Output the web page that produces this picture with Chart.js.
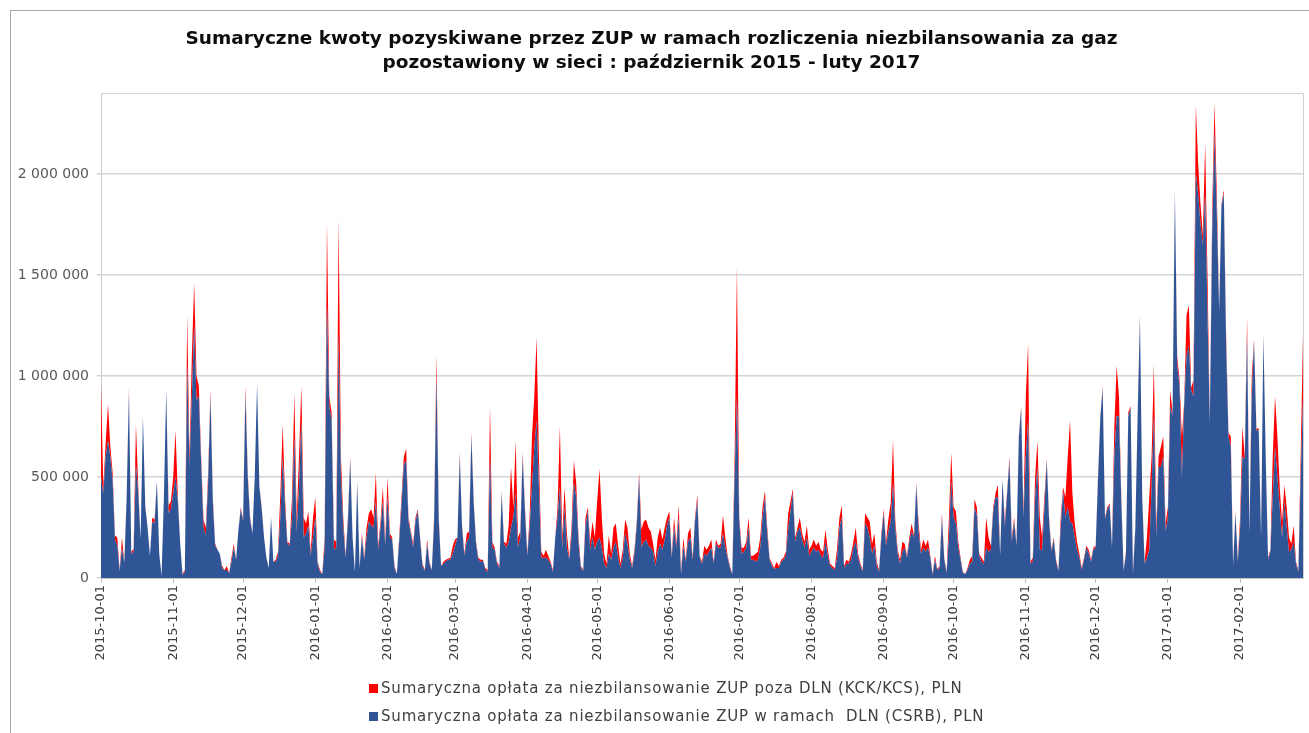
<!DOCTYPE html>
<html lang="pl">
<head>
    <meta charset="UTF-8">
    <script src="https://cdn.jsdelivr.net/npm/chart.js"></script>
    <style>
        html, body {
            margin: 0;
            padding: 0;
            background: #fff;
            overflow: hidden;
        }

        .frame {
            position: absolute;
            left: 10px;
            top: 10px;
            width: 1330px;
            height: 760px;
            border: 1px solid #a6a6a6;
        }

        .wrap {
            position: absolute;
            left: 0;
            top: 0;
            width: 1309px;
            height: 733px;
        }
    </style>
    <title>Sumaryczne kwoty pozyskiwane przez ZUP</title>
</head>
<body>
    <div class="frame"></div>
    <div class="wrap"><canvas id="chart"></canvas></div>
    <script>
        // daily series, 2015-10-01 .. 2017-02-28, values in thousands PLN
        const firstDay = "2015-10-01";
        const dayCount = 517;

        const monthTicks = [
            "2015-10-01", "2015-11-01", "2015-12-01", "2016-01-01", "2016-02-01", "2016-03-01",
            "2016-04-01", "2016-05-01", "2016-06-01", "2016-07-01", "2016-08-01", "2016-09-01",
            "2016-10-01", "2016-11-01", "2016-12-01", "2017-01-01", "2017-02-01"
        ];

        const yTicks = [0, 500000, 1000000, 1500000, 2000000];

        // ZUP w ramach DLN (CSRB) - blue, bottom of the stack
        const csrbK = [
            500, 420, 600, 680, 600, 480, 190, 160, 35, 150,
            75, 390, 920, 120, 130, 560, 420, 190, 800, 350,
            250, 110, 280, 270, 480, 120, 10, 400, 930, 320,
            340, 420, 500, 380, 170, 15, 30, 1050, 550, 900,
            1250, 880, 900, 560, 250, 210, 480, 900, 380, 160,
            140, 120, 50, 40, 40, 25, 80, 150, 90, 240,
            340, 280, 910, 500, 290, 220, 500, 960, 450, 340,
            200, 100, 50, 300, 80, 80, 110, 300, 600, 350,
            170, 160, 300, 700, 230, 450, 780, 200, 220, 260,
            110, 200, 300, 70, 30, 20, 150, 1350, 850, 780,
            140, 150, 1200, 500, 250, 100, 280, 580, 200, 30,
            470, 50, 200, 90, 200, 280, 260, 250, 380, 140,
            250, 380, 160, 400, 200, 190, 50, 20, 180, 360,
            560, 580, 280, 220, 150, 280, 330, 190, 60, 35,
            170, 70, 40, 280, 1000, 280, 60, 70, 80, 90,
            90, 120, 160, 200, 600, 250, 110, 180, 200, 700,
            370, 170, 90, 80, 85, 40, 30, 600, 150, 140,
            70, 50, 420, 170, 150, 180, 250, 300, 420, 150,
            200, 600, 330, 110, 250, 450, 650, 780, 450, 100,
            100, 100, 90, 70, 30, 200, 300, 450, 150, 350,
            150, 90, 200, 470, 400, 170, 50, 35, 260, 330,
            140, 200, 140, 180, 200, 150, 70, 50, 120, 90,
            150, 180, 100, 50, 100, 220, 170, 90, 50, 120,
            260, 500, 150, 180, 190, 160, 150, 130, 60, 130,
            170, 140, 190, 260, 300, 100, 250, 150, 300, 20,
            160, 80, 180, 200, 90, 280, 380, 100, 70, 120,
            110, 130, 150, 70, 170, 150, 150, 220, 150, 100,
            50, 20, 500, 900, 280, 120, 130, 150, 250, 90,
            90, 80, 90, 150, 300, 400, 220, 90, 60, 45,
            50, 50, 80, 90, 110, 240, 330, 420, 180, 230,
            250, 190, 150, 200, 110, 130, 150, 130, 140, 110,
            100, 180, 110, 60, 50, 40, 100, 250, 300, 50,
            70, 70, 90, 150, 180, 100, 60, 30, 270, 250,
            200, 120, 160, 60, 30, 200, 320, 160, 230, 280,
            470, 240, 120, 70, 130, 150, 100, 180, 230, 200,
            460, 230, 120, 150, 130, 150, 100, 15, 90, 40,
            50, 300, 90, 25, 200, 480, 300, 270, 150, 90,
            25, 20, 40, 70, 80, 350, 310, 110, 80, 70,
            150, 130, 140, 330, 400, 400, 110, 490, 250, 420,
            580, 180, 280, 160, 690, 840, 300, 600, 780, 70,
            80, 400, 550, 140, 140, 350, 580, 280, 130, 190,
            80, 35, 250, 430, 300, 350, 280, 270, 200, 140,
            100, 40, 90, 150, 120, 80, 140, 150, 490, 790,
            940, 290, 340, 360, 150, 600, 800, 800, 380, 35,
            120, 800, 840, 20, 240, 790, 1290, 390, 70, 100,
            140, 450, 800, 200, 550, 550, 600, 230, 300, 850,
            800, 1910, 1050, 950, 500, 860, 1100, 1150, 930, 900,
            2000, 1900, 1750, 1650, 1900, 1300, 770, 1700, 2200, 1800,
            1320, 1840, 1900, 1150, 700, 650, 60, 320, 80, 250,
            600, 590, 1200, 220, 900, 1170, 730, 730, 200, 1200,
            590, 90, 130, 400, 650, 500, 350, 200, 380, 250,
            130, 140, 180, 70, 30, 500, 880
        ];

        // ZUP poza DLN (KCK/KCS) - red, stacked on top
        const kckK = [
            460, 30, 70, 180, 50, 40, 20, 40, 5, 50,
            5, 10, 20, 10, 15, 200, 30, 0, 0, 10,
            0, 0, 20, 20, 0, 0, 0, 0, 0, 40,
            40, 80, 230, 20, 0, 5, 10, 250, 50, 200,
            210, 120, 50, 40, 40, 40, 40, 30, 20, 10,
            0, 0, 10, 0, 20, 0, 20, 20, 0, 0,
            10, 10, 40, 20, 10, 0, 0, 0, 0, 10,
            0, 0, 0, 0, 0, 10, 20, 120, 160, 50,
            10, 10, 100, 215, 70, 150, 170, 100, 50, 70,
            20, 100, 100, 10, 10, 0, 50, 410, 50, 40,
            50, 30, 580, 100, 50, 10, 20, 20, 0, 0,
            10, 0, 20, 10, 50, 40, 80, 50, 140, 20,
            30, 70, 20, 100, 20, 10, 10, 0, 20, 40,
            40, 60, 20, 10, 20, 20, 10, 10, 10, 5,
            20, 10, 0, 20, 100, 20, 0, 10, 10, 5,
            10, 40, 30, 0, 20, 10, 10, 40, 30, 20,
            10, 10, 10, 10, 5, 10, 10, 250, 30, 10,
            10, 10, 10, 10, 20, 80, 300, 50, 260, 50,
            30, 20, 20, 10, 50, 250, 250, 410, 150, 30,
            10, 40, 20, 10, 10, 0, 50, 300, 50, 100,
            70, 10, 50, 110, 70, 30, 10, 5, 40, 20,
            40, 80, 60, 200, 340, 150, 50, 20, 90, 30,
            100, 90, 60, 20, 40, 70, 80, 30, 10, 20,
            20, 20, 90, 100, 100, 90, 80, 40, 30, 70,
            80, 50, 60, 40, 30, 10, 50, 20, 60, 10,
            40, 10, 40, 50, 10, 20, 30, 10, 10, 40,
            30, 30, 40, 10, 20, 10, 20, 90, 50, 10,
            10, 0, 100, 640, 20, 30, 20, 30, 50, 20,
            20, 40, 40, 50, 50, 30, 30, 10, 10, 5,
            30, 10, 10, 10, 20, 80, 50, 20, 20, 20,
            50, 30, 30, 60, 30, 30, 40, 30, 40, 30,
            30, 60, 30, 10, 10, 10, 50, 50, 60, 10,
            20, 10, 30, 30, 70, 20, 10, 10, 50, 50,
            80, 50, 60, 20, 10, 20, 20, 20, 60, 90,
            210, 40, 20, 20, 50, 20, 10, 20, 40, 10,
            10, 40, 20, 40, 30, 40, 10, 5, 20, 5,
            10, 20, 10, 5, 100, 140, 50, 60, 30, 10,
            5, 0, 10, 20, 30, 40, 40, 10, 20, 10,
            150, 70, 20, 20, 20, 60, 10, 0, 30, 10,
            20, 20, 20, 10, 10, 10, 20, 300, 380, 10,
            20, 100, 130, 160, 60, 50, 10, 20, 10, 10,
            10, 5, 50, 20, 100, 250, 500, 150, 70, 40,
            20, 10, 10, 10, 20, 10, 10, 10, 10, 10,
            10, 10, 10, 10, 10, 150, 250, 100, 20, 5,
            10, 20, 10, 10, 10, 10, 10, 10, 10, 100,
            260, 150, 260, 50, 50, 100, 100, 40, 50, 80,
            20, 10, 50, 30, 200, 10, 200, 200, 10, 80,
            340, 150, 100, 50, 250, 200, 10, 100, 150, 100,
            10, 10, 20, 50, 20, 50, 10, 10, 10, 50,
            150, 10, 90, 10, 100, 10, 10, 10, 10, 10,
            10, 10, 10, 200, 250, 200, 100, 80, 80, 100,
            70, 30, 80, 10, 10, 100, 330
        ];

        const titleLines = [
            "Sumaryczne kwoty pozyskiwane przez ZUP w ramach rozliczenia niezbilansowania za gaz",
            "pozostawiony w sieci : październik 2015 - luty 2017"
        ];
        const seriesNames = [
            "Sumaryczna opłata za niezbilansowanie ZUP poza DLN (KCK/KCS), PLN",
            "Sumaryczna opłata za niezbilansowanie ZUP w ramach  DLN (CSRB), PLN"
        ];
        const seriesColors = ["#ff0000", "#2f5597"];

        // build the daily category labels
        const dayLabels = [];
        const d0 = new Date(firstDay + "T00:00:00Z");
        for (let i = 0; i < dayCount; i++) {
            const d = new Date(d0.getTime() + i * 86400000);
            dayLabels.push(d.toISOString().slice(0, 10));
        }

        function formatPl(v) {
            return String(v).replace(/\B(?=(\d{3})+(?!\d))/g, " ");
        }

        // top/right border of the plot + the two-line legend at the bottom
        const framePlugin = {
            id: "frame",
            afterDraw(chart) {
                const { ctx, chartArea } = chart;
                ctx.save();
                ctx.strokeStyle = "#d0d0d0";
                ctx.lineWidth = 1;
                ctx.beginPath();
                ctx.moveTo(chartArea.left, chartArea.top + 0.5);
                ctx.lineTo(chartArea.right + 0.5, chartArea.top + 0.5);
                ctx.lineTo(chartArea.right + 0.5, chartArea.bottom);
                ctx.stroke();

                ctx.font = "15px 'DejaVu Sans'";
                ctx.letterSpacing = "0.8px";
                ctx.textBaseline = "middle";
                ctx.textAlign = "left";
                const rows = [689, 717];
                seriesNames.forEach((name, i) => {
                    ctx.fillStyle = seriesColors[i];
                    ctx.fillRect(369, rows[i] - 5, 9, 9);
                    ctx.fillStyle = "#404040";
                    ctx.fillText(name, 381, rows[i]);
                });
                ctx.restore();
            }
        };

        new Chart(document.getElementById("chart"), {
            type: "line",
            data: {
                labels: dayLabels,
                datasets: [
                    {
                        label: seriesNames[1],
                        data: csrbK.map(v => v * 1000),
                        backgroundColor: seriesColors[1],
                        borderWidth: 0,
                        pointRadius: 0,
                        fill: "origin",
                        tension: 0
                    },
                    {
                        label: seriesNames[0],
                        data: kckK.map(v => v * 1000),
                        backgroundColor: seriesColors[0],
                        borderWidth: 0,
                        pointRadius: 0,
                        fill: "-1",
                        tension: 0
                    }
                ]
            },
            options: {
                responsive: true,
                maintainAspectRatio: false,
                animation: false,
                devicePixelRatio: 1,
                layout: {
                    padding: { left: 0, right: 6, top: 0, bottom: 63 }
                },
                plugins: {
                    legend: { display: false },
                    tooltip: { enabled: false },
                    title: {
                        display: true,
                        text: titleLines,
                        color: "#0d0d0d",
                        font: { family: "'DejaVu Sans'", size: 18.5, weight: "bold", lineHeight: 1.3 },
                        padding: { top: 27, bottom: 18 }
                    }
                },
                scales: {
                    x: {
                        stacked: true,
                        afterFit(scale) { scale.height = 92; },
                        border: { display: true, color: "#c8c8c8" },
                        grid: {
                            drawOnChartArea: false,
                            drawTicks: true,
                            tickLength: 5,
                            color: "#bfbfbf"
                        },
                        ticks: {
                            autoSkip: false,
                            minRotation: 90,
                            maxRotation: 90,
                            padding: 2,
                            color: "#404040",
                            font: { family: "'DejaVu Sans'", size: 13 },
                            callback(value) {
                                const lbl = this.getLabelForValue(value);
                                return monthTicks.includes(lbl) ? lbl : null;
                            }
                        }
                    },
                    y: {
                        stacked: true,
                        min: 0,
                        max: 2400000,
                        afterFit(scale) { scale.width = 101; },
                        afterBuildTicks(scale) {
                            scale.ticks = yTicks.map(v => ({ value: v }));
                        },
                        border: { display: true, color: "#c8c8c8" },
                        grid: {
                            color: "#d4d4d4",
                            lineWidth: 1.5,
                            tickLength: 4
                        },
                        ticks: {
                            padding: 8,
                            color: "#595959",
                            font: { family: "'DejaVu Sans'", size: 14 },
                            callback: v => formatPl(v)
                        }
                    }
                }
            },
            plugins: [framePlugin]
        });
    </script>
</body>
</html>
